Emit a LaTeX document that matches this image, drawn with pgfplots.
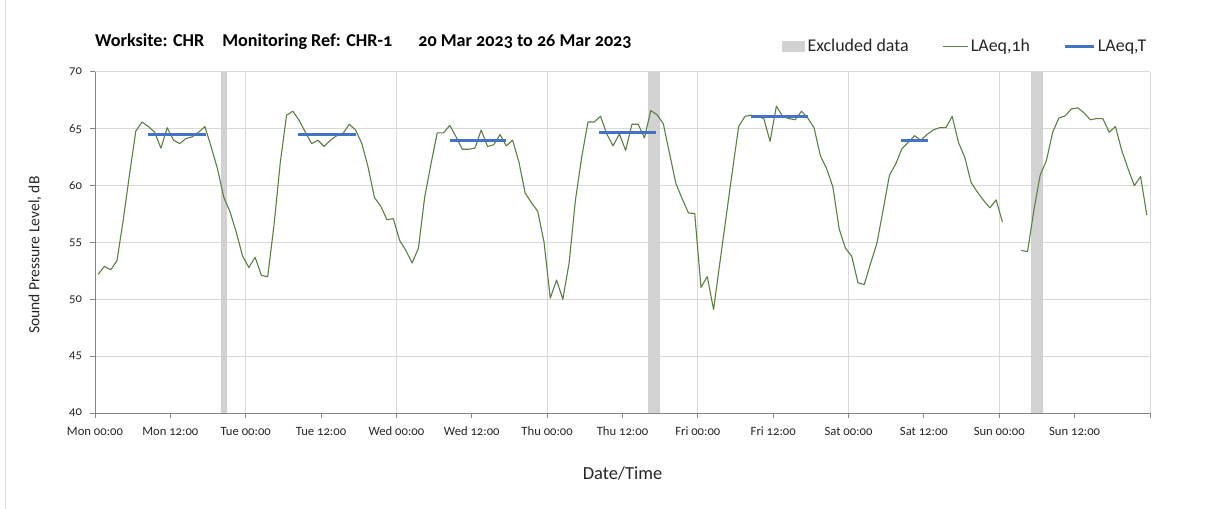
\documentclass[border=0pt]{standalone}
\usepackage{fontspec}
\setmainfont{Carlito}[Numbers=OldStyle]
\usepackage{pgfplots}
\usepackage{pgfplotstable}
\pgfplotsset{compat=1.18}
\definecolor{lgreen}{RGB}{92,128,66}
\definecolor{lblue}{RGB}{68,114,196}
\definecolor{excl}{RGB}{210,210,210}
\definecolor{gridc}{RGB}{217,217,217}
\definecolor{axc}{RGB}{134,134,134}
\definecolor{txt}{RGB}{38,38,38}

\pgfplotstableread{
x y
0.5 52.2
1.5 52.9
2.5 52.6
3.5 53.4
4.5 57.0
5.5 61.0
6.5 64.8
7.5 65.6
8.5 65.2
9.5 64.7
10.5 63.3
11.5 65.1
12.5 64.0
13.5 63.7
14.5 64.15
15.5 64.3
16.5 64.7
17.5 65.2
18.5 63.4
19.5 61.5
20.5 59.0
21.5 57.7
22.5 55.9
23.5 53.8
24.5 52.8
25.5 53.7
26.5 52.1
27.5 52.0
28.5 56.5
29.5 62.0
30.5 66.2
31.5 66.55
32.5 65.75
33.5 64.7
34.5 63.7
35.5 64.0
36.5 63.45
37.5 64.0
38.5 64.4
39.5 64.6
40.5 65.4
41.5 64.9
42.5 63.7
43.5 61.6
44.5 58.95
45.5 58.2
46.5 57.0
47.5 57.1
48.5 55.2
49.5 54.3
50.5 53.2
51.5 54.5
52.5 59.0
53.5 61.9
54.5 64.65
55.5 64.65
56.5 65.3
57.5 64.3
58.5 63.2
59.5 63.2
60.5 63.3
61.5 64.9
62.5 63.45
63.5 63.6
64.5 64.5
65.5 63.5
66.5 64.0
67.5 62.1
68.5 59.35
69.5 58.5
70.5 57.75
71.5 55.05
72.5 50.1
73.5 51.7
74.5 50.0
75.5 53.2
76.5 58.7
77.5 62.5
78.5 65.6
79.5 65.6
80.5 66.1
81.5 64.55
82.5 63.5
83.5 64.55
84.5 63.1
85.5 65.4
86.5 65.4
87.5 64.2
88.5 66.6
89.5 66.25
90.5 65.45
91.5 62.8
92.5 60.2
93.5 58.85
94.5 57.6
95.5 57.55
96.5 51.05
97.5 52.0
98.5 49.1
99.5 53.2
100.5 57.25
101.5 61.3
102.5 65.2
103.5 66.1
104.5 66.2
105.5 66.1
106.5 65.9
107.5 63.9
108.5 67.0
109.5 66.1
110.5 65.9
111.5 65.8
112.5 66.55
113.5 65.95
114.5 65.1
115.5 62.65
116.5 61.5
117.5 59.9
118.5 56.2
119.5 54.5
120.5 53.8
121.5 51.45
122.5 51.3
123.5 53.15
124.5 54.9
125.5 57.85
126.5 60.9
127.5 61.9
128.5 63.25
129.5 63.8
130.5 64.4
131.5 64.0
132.5 64.5
133.5 64.9
134.5 65.1
135.5 65.1
136.5 66.1
137.5 63.8
138.5 62.5
139.5 60.3
140.5 59.45
141.5 58.7
142.5 58.05
143.5 58.75
144.5 56.8
145.5 nan
146.5 nan
147.5 54.3
148.5 54.2
149.5 57.8
150.5 60.9
151.5 62.2
152.5 64.7
153.5 65.95
154.5 66.15
155.5 66.75
156.5 66.85
157.5 66.4
158.5 65.8
159.5 65.9
160.5 65.9
161.5 64.7
162.5 65.2
163.5 63.1
164.5 61.5
165.5 60.0
166.5 60.8
167.5 57.4
}\hourly

\begin{document}
\begin{tikzpicture}
\path[use as bounding box] (0,0) rectangle (1208bp,509bp);
\draw[gridc, line width=1bp] (5bp,0) -- (5bp,509bp);
\node[anchor=west, font=\bfseries\fontsize{18.2}{20}\selectfont, text=black, inner sep=0]
  at (95bp,467bp) {Worksite: CHR\hspace{18bp}Monitoring Ref: CHR-1\hspace{26bp}20 Mar 2023 to 26 Mar 2023};
\begin{axis}[
  at={(95bp,96bp)}, anchor=south west,
  scale only axis, width=1055bp, height=341bp,
  xmin=0, xmax=168, ymin=40, ymax=70,
  axis lines*=left,
  axis line style={axc, line width=1bp},
  every outer x axis line/.append style={-},
  every outer y axis line/.append style={-},
  xtick={0,12,...,168},
  xticklabels={Mon 00:00,Mon 12:00,Tue 00:00,Tue 12:00,Wed 00:00,Wed 12:00,Thu 00:00,Thu 12:00,Fri 00:00,Fri 12:00,Sat 00:00,Sat 12:00,Sun 00:00,Sun 12:00,},
  extra x ticks={24,48,...,168},
  extra x tick labels={},
  extra x tick style={grid=major, major tick length=0pt},
  ytick={40,45,...,70},
  ymajorgrids,
  grid style={gridc, line width=1bp},
  tick align=outside,
  major tick length=4.5bp,
  tick style={axc, line width=1bp},
  unbounded coords=jump,
  /pgf/number format/assume math mode=true,
  ticklabel style={font=\fontsize{12.7}{14}\selectfont, text=txt},
  yticklabel style={xshift=-5bp},
  xticklabel style={yshift=-6bp},
  xlabel={Date/Time},
  ylabel={Sound Pressure Level, dB},
  xlabel style={font=\fontsize{18.5}{20}\selectfont, text=txt, at={(axis description cs:0.5,-0.176)}, anchor=center},
  ylabel style={font=\fontsize{15.6}{18}\selectfont, text=txt, at={(axis description cs:-0.0569,0.463)}, anchor=center},
  legend columns=3,
  legend style={draw=none, fill=none, at={(axis description cs:0.999,1.075)}, anchor=east,
    inner sep=0pt, font=\fontsize{18}{20}\selectfont, text=txt,
    nodes={inner xsep=2.5bp, inner ysep=0pt},
    /tikz/every even column/.append style={column sep=31bp}},
  clip=true,
]
\addplot[fill=excl, draw=none, legend image code/.code={\fill[excl] (0bp,-5.5bp) rectangle (23bp,5.5bp);}]
  coordinates {(20,40) (20,70) (21,70) (21,40)} -- cycle;
\addlegendentry{Excluded data}
\addplot[fill=excl, draw=none, forget plot] coordinates {(88,40) (88,70) (90,70) (90,40)} -- cycle;
\addplot[fill=excl, draw=none, forget plot] coordinates {(149,40) (149,70) (151,70) (151,40)} -- cycle;
\addplot[lgreen, line width=1.1bp, line join=round,
  legend image code/.code={\draw[lgreen, line width=1.1bp] (0bp,0bp) -- (25bp,0bp);}] table[x=x,y=y] {\hourly};
\addlegendentry{LAeq,1h}
\addplot[lblue, line width=2.8bp,
  legend image code/.code={\draw[lblue, line width=2.8bp] (0bp,0bp) -- (29bp,0bp);}] coordinates {(8.4,64.5) (17.6,64.5)};
\addlegendentry{LAeq,T}
\addplot[lblue, line width=2.8bp, forget plot] coordinates {(32.4,64.5) (41.6,64.5)};
\addplot[lblue, line width=2.8bp, forget plot] coordinates {(56.5,64.0) (65.5,64.0)};
\addplot[lblue, line width=2.8bp, forget plot] coordinates {(80.3,64.65) (89.4,64.65)};
\addplot[lblue, line width=2.8bp, forget plot] coordinates {(104.4,66.05) (113.6,66.05)};
\addplot[lblue, line width=2.8bp, forget plot] coordinates {(128.3,64.0) (132.6,64.0)};
\end{axis}
\end{tikzpicture}
\end{document}
